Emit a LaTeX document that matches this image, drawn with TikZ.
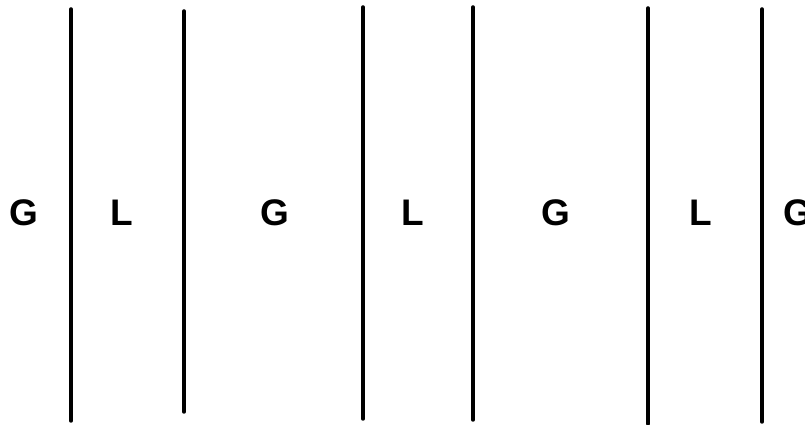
\documentclass[tikz,border=0pt]{standalone}
\usepackage{fontspec}
\setmainfont{Liberation Sans}
\begin{document}
\begin{tikzpicture}[x=1pt,y=1pt,
  wall/.style={line width=3.5pt,line cap=round,black},
  phase/.style={anchor=base,inner sep=0pt,font=\fontsize{37}{40}\selectfont\bfseries}]
\useasboundingbox (0,0) rectangle (805,425);
% vertical lines (top y, bottom y in image pixels -> flipped)
\draw[wall] (71,{425-9}) -- (71,{425-421});
\draw[wall] (184,{425-11}) -- (184,{425-412});
\draw[wall] (363,{425-7}) -- (363,{425-419});
\draw[wall] (473,{425-7}) -- (473,{425-420});
\draw[wall] (648,{425-8}) -- (648,{425-424});
\draw[wall] (762,{425-9}) -- (762,{425-422});
% labels
\node[phase] (g1) at (23.5,199) {G};
\node[phase] (l1) at (122,199) {L};
\node[phase] (g2) at (275,199) {G};
\node[phase] (l2) at (413,199) {L};
\node[phase] (g3) at (556,199) {G};
\node[phase] (l3) at (701,199) {L};
\node[phase] (g4) at (798,199) {G};
\end{tikzpicture}
\end{document}
